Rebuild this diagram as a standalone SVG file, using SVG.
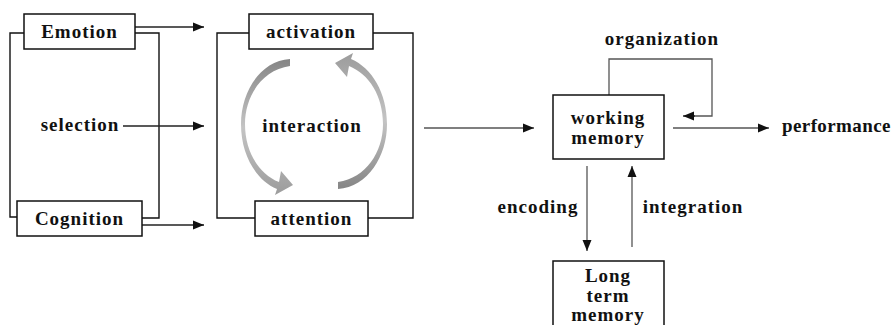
<svg xmlns="http://www.w3.org/2000/svg" width="896" height="325" viewBox="0 0 896 325">
  <style>
    .box { fill: #ffffff; stroke: #111111; stroke-width: 1.5; }
    .t { font-family: 'Liberation Serif', 'DejaVu Serif', serif; font-weight: 700; font-size: 19px; fill: #111111; text-anchor: middle; letter-spacing: 1px; }
    .ln { fill: none; stroke: #111111; stroke-width: 1.4; }
    .ar { fill: none; stroke: #222222; stroke-width: 1.3; marker-end: url(#ah); }
    .gl { fill: none; stroke: #555555; stroke-width: 1.3; }
    .ga { fill: none; stroke: #555555; stroke-width: 1.3; marker-end: url(#ah); }
  </style>
  <defs>
    <marker id="ah" markerUnits="userSpaceOnUse" markerWidth="12" markerHeight="10" refX="11" refY="5" orient="auto">
      <path d="M0,0.5 L11,5 L0,9.5 Z" fill="#111111"/>
    </marker>
    <linearGradient id="gr" x1="0" y1="0" x2="0" y2="1">
      <stop offset="0" stop-color="#858585"/>
      <stop offset="0.5" stop-color="#c4c4c4"/>
      <stop offset="1" stop-color="#9c9c9c"/>
    </linearGradient>
    <path id="arc" d="M290 59 C260 61 241 92 241 124 C241 155 256 180 277 189 L275 195 L293 185 L281 171 L279 182 C259 174 245 152 245 124 C245 96 262 70 290 66 Z"/>
  </defs>

  <g id="connectors">
    <path class="ln" d="M24 33 H10 V217 H17"/>
    <path class="ln" d="M135 33 H159 V218 H142"/>
    <path class="ln" d="M249 33 H217 V218 H255"/>
    <path class="ln" d="M373 33 H413 V218 H368"/>
    <line class="ar" x1="135" y1="27" x2="204" y2="27"/>
    <line class="ar" x1="123" y1="126" x2="204" y2="126"/>
    <line class="ar" x1="142" y1="225" x2="204" y2="225"/>
    <line class="ga" x1="424" y1="128" x2="534" y2="128"/>
    <line class="ga" x1="673" y1="128" x2="769" y2="128"/>
    <path class="gl" d="M609 95 V59 H712 V116 H694"/>
    <line class="ar" x1="695" y1="116" x2="683" y2="116"/>
    <line class="ga" x1="587" y1="166" x2="587" y2="251"/>
    <line class="ga" x1="632" y1="247" x2="632" y2="166"/>
    <use href="#arc" fill="url(#gr)"/>
    <use href="#arc" fill="url(#gr)" transform="rotate(180 314 124)"/>
  </g>

  <g id="emotion">
    <rect class="box" x="24" y="14" width="111" height="35"/>
    <text class="t" x="79.5" y="38">Emotion</text>
  </g>
  <g id="cognition">
    <rect class="box" x="17" y="201" width="125" height="35"/>
    <text class="t" x="79.5" y="225">Cognition</text>
  </g>
  <g id="selection">
    <text class="t" x="80" y="131">selection</text>
  </g>
  <g id="activation">
    <rect class="box" x="249" y="14" width="124" height="35"/>
    <text class="t" x="311" y="38">activation</text>
  </g>
  <g id="attention">
    <rect class="box" x="255" y="201" width="113" height="35"/>
    <text class="t" x="311.5" y="225">attention</text>
  </g>
  <g id="interaction">
    <text class="t" x="312" y="132">interaction</text>
  </g>
  <g id="working-memory">
    <rect class="box" x="553" y="95" width="111" height="64"/>
    <text class="t" x="608" y="124">working</text>
    <text class="t" x="608" y="144">memory</text>
  </g>
  <g id="organization">
    <text class="t" x="662" y="45">organization</text>
  </g>
  <g id="performance">
    <text class="t" x="782" y="132" style="text-anchor:start;letter-spacing:0.4px">performance</text>
  </g>
  <g id="encoding">
    <text class="t" x="538" y="213">encoding</text>
  </g>
  <g id="integration">
    <text class="t" x="693" y="213">integration</text>
  </g>
  <g id="long-term-memory">
    <rect class="box" x="553" y="261" width="111" height="80"/>
    <text class="t" x="608" y="282">Long</text>
    <text class="t" x="608" y="302">term</text>
    <text class="t" x="608" y="321">memory</text>
  </g>
</svg>
